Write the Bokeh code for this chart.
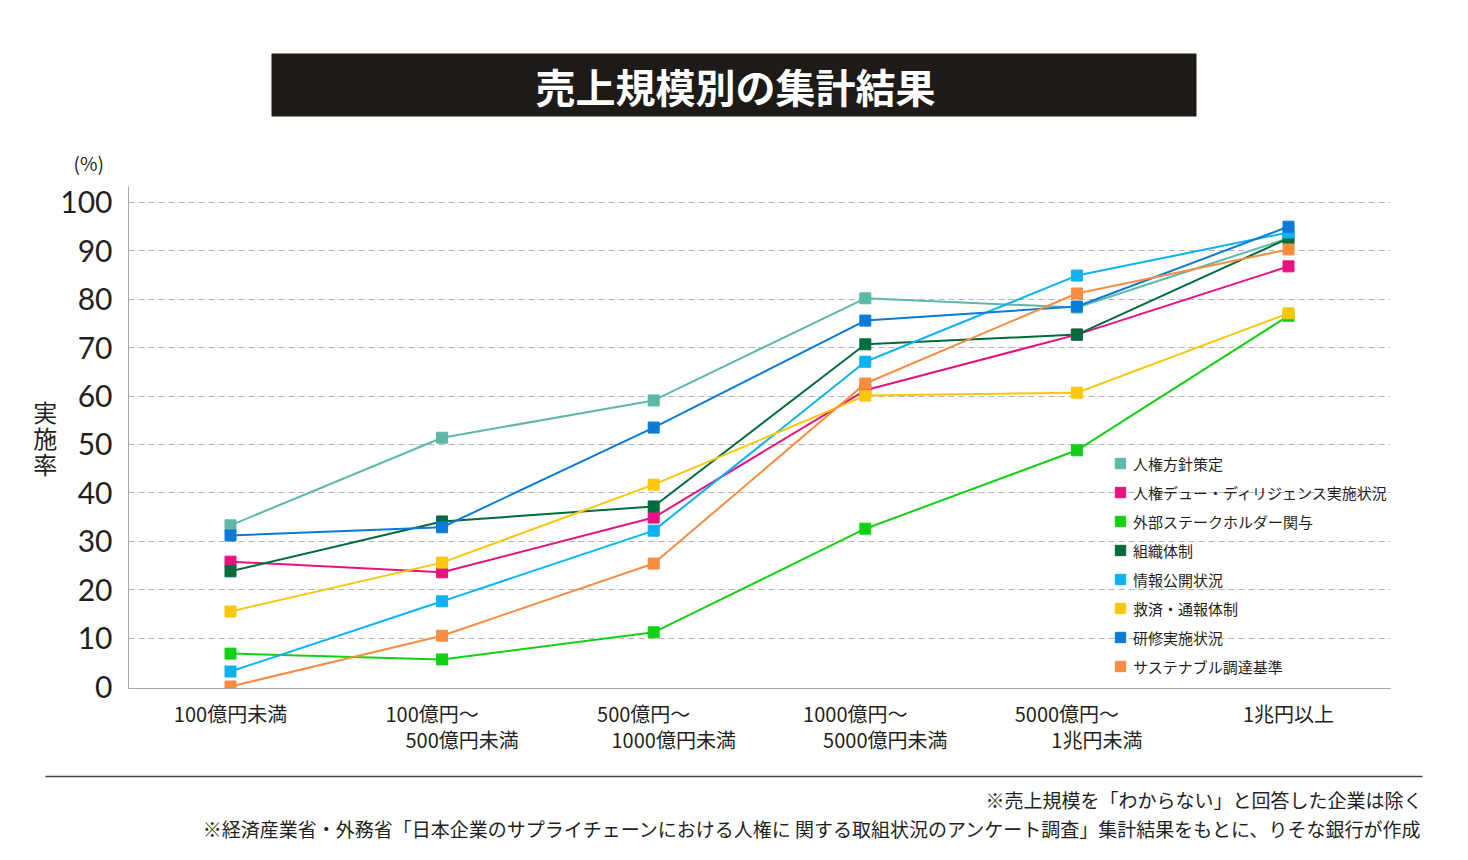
from bokeh.plotting import figure
from bokeh.models import Range1d, Legend, LegendItem, FixedTicker, Title
from bokeh.embed import file_html
from bokeh.resources import INLINE

# ---------------- data ----------------
cat_line1 = ["100億円未満", "100億円～", "500億円～", "1000億円～", "5000億円～", "1兆円以上"]
cat_line2 = ["", "500億円未満", "1000億円未満", "5000億円未満", "1兆円未満", ""]

series_names = [
    "人権方針策定",
    "人権デュー・ディリジェンス実施状況",
    "外部ステークホルダー関与",
    "組織体制",
    "情報公開状況",
    "救済・通報体制",
    "研修実施状況",
    "サステナブル調達基準",
]
policy = [33.3, 51.4, 59.1, 80.2, 78.3, 92.6]
due_diligence = [25.8, 23.6, 34.9, 61.2, 72.7, 86.8]
stakeholder = [6.8, 5.6, 11.2, 32.6, 48.8, 76.6]
organization = [23.8, 34.1, 37.2, 70.7, 72.7, 92.6]
disclosure = [3.1, 17.6, 32.2, 67.1, 84.9, 93.8]
remedy = [15.5, 25.6, 41.7, 60.1, 60.7, 77.1]
training = [31.2, 32.9, 53.5, 75.6, 78.5, 95.0]
procurement = [0.0, 10.5, 25.4, 62.6, 81.2, 90.3]
series_values = [policy, due_diligence, stakeholder, organization,
                 disclosure, remedy, training, procurement]
series_colors = ["#5cb8a8", "#e6127f", "#14d014", "#006b3c",
                 "#0db2f0", "#fbc70b", "#0a7bd6", "#f68d40"]
y_ticks = [0, 10, 20, 30, 40, 50, 60, 70, 80, 90, 100]

title_text = "売上規模別の集計結果"
unit_text = "(%)"
y_title = "実施率"
note1 = "※売上規模を「わからない」と回答した企業は除く"
note2 = "※経済産業省・外務省「日本企業のサプライチェーンにおける人権に 関する取組状況のアンケート調査」集計結果をもとに、りそな銀行が作成"

JP = "Noto Sans CJK JP"
DARK = "#231f20"
W, H = 1460, 860

FRAME_L, FRAME_R, FRAME_T, FRAME_B = 128, 1390, 186, 688
X0_PX, DX_PX = 230, 211.6
RULE_L, RULE_R = 45, 1422

p = figure(width=W, height=H,
           x_range=Range1d(-(X0_PX - FRAME_L) / DX_PX, (FRAME_R - X0_PX) / DX_PX),
           y_range=Range1d(-0.41, 103.3),
           output_backend="svg", toolbar_location=None,
           min_border_left=FRAME_L, min_border_right=W - FRAME_R,
           min_border_top=FRAME_T, min_border_bottom=H - FRAME_B)
p.outline_line_color = None
p.border_fill_color = "white"

p.xgrid.grid_line_color = None
p.ygrid.ticker = FixedTicker(ticks=y_ticks[1:])
p.ygrid.grid_line_color = "#b4b4b4"
p.ygrid.grid_line_dash = "6 4"

p.yaxis.ticker = FixedTicker(ticks=y_ticks)
p.yaxis.major_tick_line_color = None
p.yaxis.minor_tick_line_color = None
p.yaxis.major_tick_out = 0
p.yaxis.major_tick_in = 0
p.yaxis.axis_line_color = "#a8a8a8"
p.yaxis.major_label_text_font = "Lato"
p.yaxis.major_label_text_font_size = "30px"
p.yaxis.major_label_text_color = DARK
p.yaxis.major_label_standoff = 16
p.yaxis.axis_label = "\n".join(y_title)
p.yaxis.axis_label_orientation = "horizontal"
p.yaxis.axis_label_text_font = JP
p.yaxis.axis_label_text_font_size = "24px"
p.yaxis.axis_label_text_font_style = "normal"
p.yaxis.axis_label_text_color = DARK
p.yaxis.axis_label_text_line_height = 0.74
p.yaxis.axis_label_standoff = 0

xs = list(range(len(cat_line1)))
overrides = {}
for i, (l1, l2) in enumerate(zip(cat_line1, cat_line2)):
    overrides[i] = (l1 + "\u3000\n\u3000\u3000" + l2) if l2 else l1
p.xaxis.ticker = FixedTicker(ticks=xs)
p.xaxis.major_label_overrides = overrides
p.xaxis.major_tick_line_color = None
p.xaxis.minor_tick_line_color = None
p.xaxis.major_tick_out = 0
p.xaxis.major_tick_in = 0
p.xaxis.axis_line_color = "#a8a8a8"
p.xaxis.major_label_text_font = JP
p.xaxis.major_label_text_font_size = "20px"
p.xaxis.major_label_text_color = DARK
p.xaxis.major_label_text_line_height = 0.91
p.xaxis.major_label_standoff = 10

# ---- above the frame (first added = closest to frame) ----
p.add_layout(Title(text=unit_text, align="left", offset=73 - FRAME_L,
                   vertical_align="bottom", standoff=21,
                   text_font=JP, text_font_size="19px", text_font_style="normal",
                   text_color=DARK), "above")
p.add_layout(Title(text=title_text, align="left", offset=271 - FRAME_L,
                   vertical_align="middle", standoff=38,
                   text_font=JP, text_font_size="40px", text_font_style="bold",
                   text_color="white", background_fill_color="#1e1a17",
                   padding=dict(left=264, right=261, top=3, bottom=2)), "above")

# ---- below the frame: spacer, note 1 (its box top edge is the rule), note 2 ----
p.add_layout(Title(text=" ", align="left", vertical_align="top", standoff=17,
                   text_font_size="1px", text_font_style="normal"), "below")
p.add_layout(Title(text=note1, align="right", offset=-(RULE_R - FRAME_R),
                   vertical_align="top", standoff=0,
                   text_font=JP, text_font_size="19px", text_font_style="normal",
                   text_color=DARK,
                   padding=dict(left=940, right=0, top=9, bottom=0),
                   border_line_color="#444444", border_line_width=1.5,
                   border_line_dash="%d 100000" % (RULE_R - RULE_L)), "below")
p.add_layout(Title(text=note2, align="right", offset=-(RULE_R - FRAME_R),
                   vertical_align="top", standoff=0,
                   text_font=JP, text_font_size="19px", text_font_style="normal",
                   text_color=DARK), "below")

items = []
for name, vals, col in zip(series_names, series_values, series_colors):
    p.line(xs, vals, line_color=col, line_width=2)
    r = p.scatter(xs, vals, marker="square", size=11, fill_color=col, line_color=col)
    items.append(LegendItem(label=name, renderers=[r]))

legend = Legend(items=items, location=(979, 9), orientation="vertical",
                background_fill_alpha=0, border_line_color=None,
                padding=0, margin=0, spacing=3,
                glyph_width=26, glyph_height=26, label_height=26,
                label_standoff=0,
                label_text_font=JP, label_text_font_size="15px",
                label_text_color=DARK)
p.add_layout(legend)

open("out.html", "w").write(file_html(p, INLINE))
